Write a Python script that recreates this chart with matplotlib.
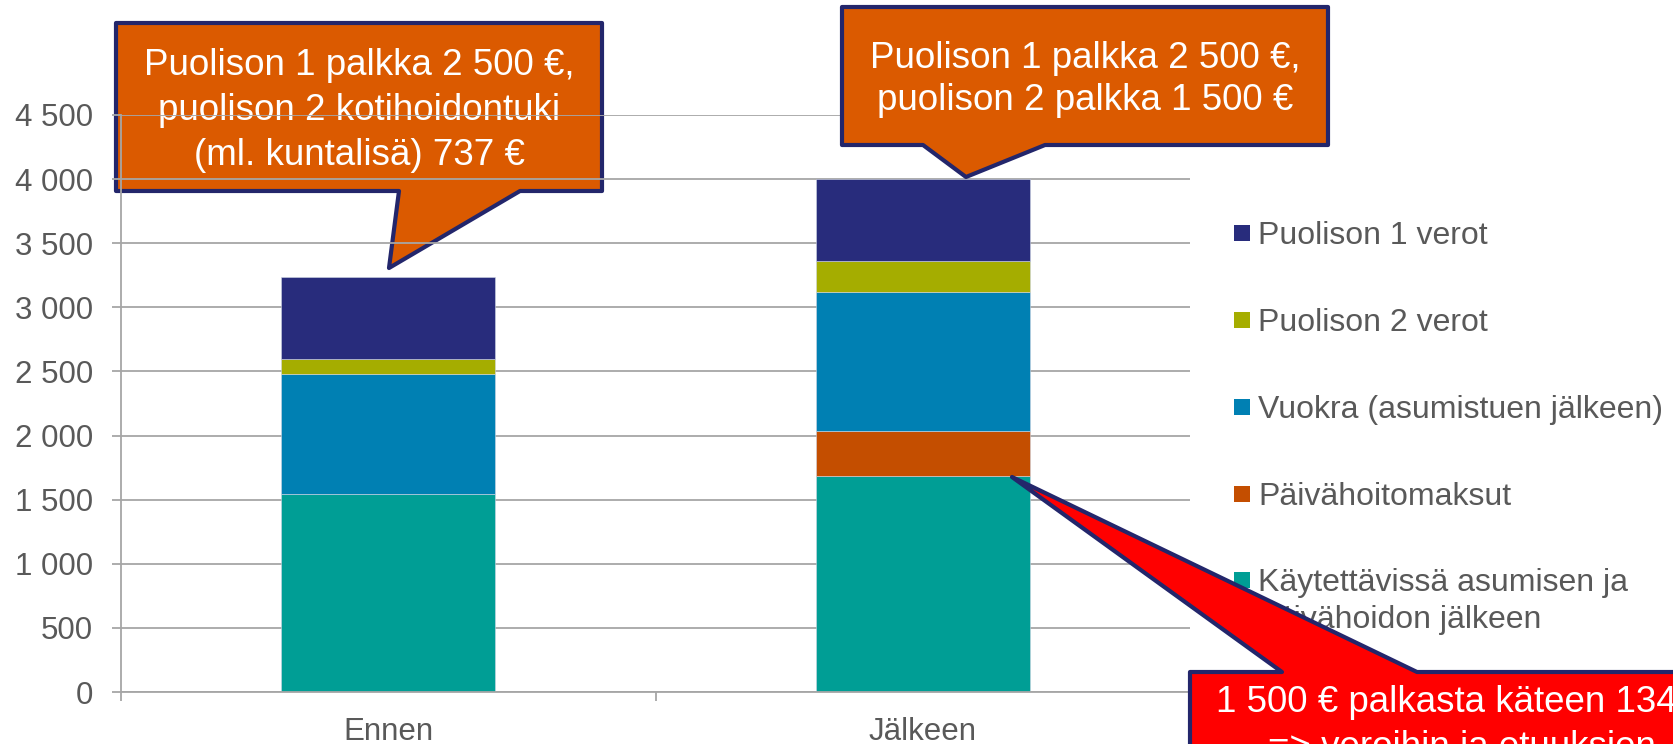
import matplotlib
matplotlib.use("Agg")
import matplotlib.pyplot as plt
from matplotlib.patches import Polygon, Rectangle

plt.rcParams['font.family'] = ['Liberation Sans', 'DejaVu Sans']

# ---------------- data ----------------
categories = ["Ennen", "Jälkeen"]
series_names = ["Käytettävissä asumisen ja\npäivähoidon jälkeen",
                "Päivähoitomaksut",
                "Vuokra (asumistuen jälkeen)",
                "Puolison 2 verot",
                "Puolison 1 verot"]
kaytettavissa = [1548, 1682]
paivahoitomaksut = [0, 352]
vuokra = [932, 1086]
puolison2_verot = [120, 242]
puolison1_verot = [637, 638]
series_values = [kaytettavissa, paivahoitomaksut, vuokra, puolison2_verot, puolison1_verot]
series_colors = ["#009E95", "#C44E00", "#0080B3", "#A5AD00", "#282C7C"]

yticks = [0, 500, 1000, 1500, 2000, 2500, 3000, 3500, 4000, 4500]
ytick_labels = ["0", "500", "1 000", "1 500", "2 000", "2 500", "3 000", "3 500", "4 000", "4 500"]

callout_left = ["Puolison 1 palkka 2 500 €,", "puolison 2 kotihoidontuki", "(ml. kuntalisä) 737 €"]
callout_right = ["Puolison 1 palkka 2 500 €,", "puolison 2 palkka 1 500 €"]
callout_red = ["1 500 € palkasta käteen 134 €", "=> veroihin ja etuuksien"]

# ---------------- figure ----------------
W, H = 1673, 744
fig = plt.figure(figsize=(W / 100, H / 100), dpi=100)
GRAY = "#A6A6A6"
TXT = "#595959"
NAVY_B = "#23266B"


def P(x, y):
    return (x / W, 1 - y / H)


ax = fig.add_axes([121 / W, 1 - 692 / H, (1190 - 121) / W, (692 - 115) / H])
ax.patch.set_visible(False)

x = list(range(len(categories)))
bottom = [0] * len(categories)
for vals, col in zip(series_values, series_colors):
    ax.bar(x, vals, width=0.4, bottom=bottom, color=col, edgecolor="#D0D6E4",
           linewidth=0.4, zorder=2)
    bottom = [b + v for b, v in zip(bottom, vals)]

ax.set_xlim(-0.5, 1.5)
ax.set_ylim(0, 4500)
ax.set_yticks(yticks, ytick_labels)
ax.yaxis.grid(True, color=GRAY, lw=1.3)
ax.set_axisbelow(True)
for s in ["top", "right"]:
    ax.spines[s].set_visible(False)
for s in ["left", "bottom"]:
    ax.spines[s].set_color(GRAY)
    ax.spines[s].set_linewidth(1.3)

ax.tick_params(axis='y', direction='out', length=6.5, width=1.3, color=GRAY,
               pad=13.5, labelsize=22.5, labelcolor=TXT)
ax.set_xticks([-0.5, 0.5, 1.5])
ax.set_xticklabels([])
ax.tick_params(axis='x', which='major', direction='out', length=6.5, width=1.3, color=GRAY)
ax.set_xticks(x, categories, minor=True)
ax.tick_params(axis='x', which='minor', length=0, pad=18, labelsize=22.5, labelcolor=TXT)

# ---------------- legend (manual) ----------------
leg_centers = [233, 320, 407, 494, 580]
for i, (name, col) in enumerate(zip(series_names[::-1], series_colors[::-1])):
    cy = leg_centers[i]
    fig.add_artist(Rectangle(P(1234, cy + 8), 16 / W, 16 / H, transform=fig.transFigure,
                             facecolor=col, edgecolor="none", zorder=5))
    for j, line in enumerate(name.split("\n")):
        fig.text(*P(1258, cy + 11 + 37 * j), line, fontsize=23, color=TXT,
                 ha='left', va='baseline', zorder=5)

# ---------------- callouts ----------------
def callout(verts, face, texts, cx, baselines, z):
    poly = Polygon([P(vx, vy) for vx, vy in verts], closed=True, transform=fig.transFigure,
                   facecolor=face, edgecolor=NAVY_B, linewidth=3, joinstyle='round', zorder=z)
    fig.add_artist(poly)
    for t, b in zip(texts, baselines):
        fig.text(*P(cx, b), t, fontsize=26.5, color="white", ha='center', va='baseline',
                 zorder=z + 0.5)


callout([(116, 23), (602, 23), (602, 191), (520, 191), (389, 268), (399, 191), (116, 191)],
        "#DB5A00", callout_left, 359, [75, 120, 165], -1)
callout([(842, 7), (1328, 7), (1328, 145), (1045, 145), (966, 177), (923, 145), (842, 145)],
        "#DB5A00", callout_right, 1085, [68, 110], 10)
callout([(1190, 672), (1282, 672), (1012, 477), (1417, 672), (1720, 672), (1720, 800), (1190, 800)],
        "#FF0000", callout_red, 1462, [712, 757], 10)

fig.savefig("out.png", dpi=100)
